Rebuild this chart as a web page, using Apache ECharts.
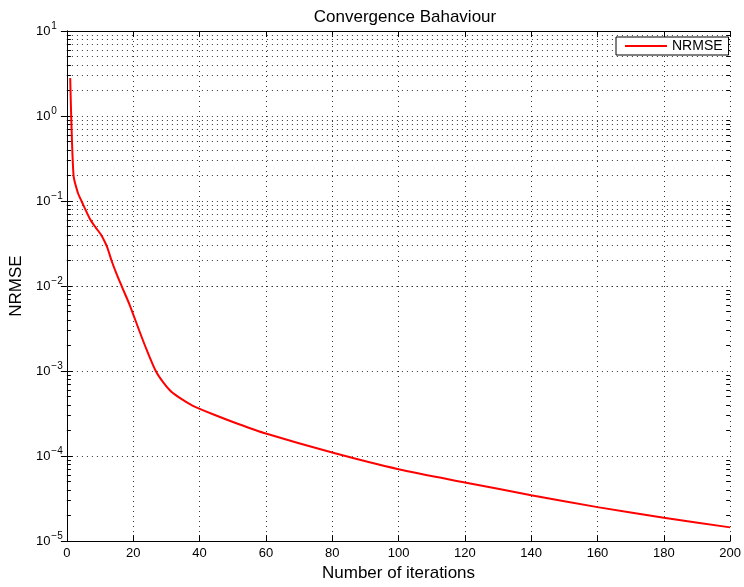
<!DOCTYPE html>
<html>
<head>
<meta charset="utf-8">
<script src="https://cdn.jsdelivr.net/npm/echarts@6/dist/echarts.min.js"></script>
<style>html,body{margin:0;padding:0;background:#fff}#c{width:744px;height:587px}</style>
</head>
<body>
<div id="c"></div>
<script>
// ---- data ----
const titleText = 'Convergence Bahaviour';
const xName = 'Number of iterations';
const yName = 'NRMSE';
const seriesName = 'NRMSE';
const iterations = [1, 2, 3.3, 4.4, 7, 8.7, 10.2, 11.3, 12.2, 13.5, 15, 16.7, 19, 22, 24, 26.8, 29, 31.5, 34.5, 38, 45, 51.5, 60, 80, 100, 120, 140, 160, 180, 200];
const nrmse = [2.8, 0.2, 0.125, 0.1, 0.061, 0.0487, 0.0406, 0.0339, 0.0283, 0.0197, 0.0138, 0.0096, 0.0059, 0.00286, 0.0018, 0.0010, 0.00074, 0.00057, 0.00047, 0.00039, 0.00030, 0.00024, 0.000184, 0.00011, 7.0e-5, 4.9e-5, 3.47e-5, 2.51e-5, 1.88e-5, 1.45e-5];
const xTicks = [0, 20, 40, 60, 80, 100, 120, 140, 160, 180, 200];
const yExponents = [1, 0, -1, -2, -3, -4, -5];
const minorMultipliers = [2, 3, 4, 5, 6, 7, 8, 9];

const FONT = "'Liberation Sans', Arial, Helvetica, sans-serif";
const points = iterations.map((x, i) => [x, nrmse[i]]);

const yMin = Math.pow(10, Math.min(...yExponents));
const yMax = Math.pow(10, Math.max(...yExponents));
const xMin = xTicks[0], xMax = xTicks[xTicks.length - 1];

// minor (2..9 x decade) positions for grid and ticks
const minorVals = [];
for (let e = Math.min(...yExponents); e < Math.max(...yExponents); e++) {
  minorMultipliers.forEach(m => minorVals.push(m * Math.pow(10, e)));
}
const gridStyle = { color: '#333', width: 1, type: [1, 4] };
const markData = [];
minorVals.forEach(v => {
  markData.push({ yAxis: v, lineStyle: gridStyle });
  markData.push([{ coord: [xMin, v], lineStyle: { color: '#000', width: 1, type: 'solid' } }, { coord: [xMin + 1.2, v] }]);
  markData.push([{ coord: [xMax - 1.2, v], lineStyle: { color: '#000', width: 1, type: 'solid' } }, { coord: [xMax, v] }]);
});

function supLabel(v) {
  const e = Math.round(Math.log10(v));
  const s = e < 0 ? '\u2212' + (-e) : String(e);
  return '{b|10}{s|' + s + '}';
}

const chart = echarts.init(document.getElementById('c'), null, { renderer: 'canvas' });
chart.setOption({
  animation: false,
  backgroundColor: '#fff',
  textStyle: { fontFamily: FONT },
  title: {
    text: titleText,
    left: 400, top: 4, textAlign: 'center',
    textStyle: { fontFamily: FONT, fontSize: 17, fontWeight: 'normal', color: '#000' }
  },
  legend: {
    data: [{ name: seriesName, icon: 'rect' }],
    left: 616, top: 37,
    backgroundColor: '#fff',
    borderColor: '#000', borderWidth: 1, borderRadius: 0,
    padding: [2, 6, 2, 9],
    itemWidth: 42, itemHeight: 2, itemGap: 5,
    itemStyle: { color: '#ff0000', borderWidth: 0 },
    textStyle: { fontFamily: FONT, fontSize: 14, color: '#000', lineHeight: 14 }
  },
  grid: { left: 66.7, top: 31, right: 10, bottom: 44.3, containLabel: false },
  xAxis: [{
    type: 'value', min: xMin, max: xMax, interval: 20, position: 'bottom',
    name: xName, nameLocation: 'middle', nameGap: 22,
    nameTextStyle: { fontFamily: FONT, fontSize: 17, color: '#000' },
    axisLine: { show: true, lineStyle: { color: '#000', width: 1 } },
    axisTick: { show: true, inside: true, length: 6, lineStyle: { color: '#000' } },
    axisLabel: { fontFamily: FONT, fontSize: 13, color: '#000', margin: 6 },
    splitLine: { show: true, lineStyle: gridStyle }
  }, {
    type: 'value', min: xMin, max: xMax, interval: 20, position: 'top',
    axisLine: { show: true, lineStyle: { color: '#000', width: 1 } },
    axisTick: { show: true, inside: true, length: 6, lineStyle: { color: '#000' } },
    axisLabel: { show: false }, splitLine: { show: false }
  }],
  yAxis: [{
    type: 'log', logBase: 10, min: yMin, max: yMax, position: 'left',
    name: yName, nameLocation: 'middle', nameGap: 38, nameRotate: 90,
    nameTextStyle: { fontFamily: FONT, fontSize: 17, color: '#000' },
    axisLine: { show: true, lineStyle: { color: '#000', width: 1 } },
    axisTick: { show: true, inside: true, length: 6, lineStyle: { color: '#000' } },
    axisLabel: {
      align: 'left', margin: 31, color: '#000',
      formatter: supLabel,
      rich: {
        b: { fontFamily: FONT, fontSize: 13, lineHeight: 13, padding: [4, 0, 3, 0], color: '#000' },
        s: { fontFamily: FONT, fontSize: 10, lineHeight: 10, padding: [0, 0, 10, 1], color: '#000' }
      }
    },
    splitLine: { show: true, lineStyle: gridStyle },
    minorTick: { show: false }, minorSplitLine: { show: false }
  }, {
    type: 'log', logBase: 10, min: yMin, max: yMax, position: 'right',
    axisLine: { show: true, lineStyle: { color: '#000', width: 1 } },
    axisTick: { show: true, inside: true, length: 6, lineStyle: { color: '#000' } },
    axisLabel: { show: false }, splitLine: { show: false }
  }],
  series: [{
    name: seriesName,
    type: 'line',
    xAxisIndex: 0, yAxisIndex: 0,
    data: points,
    symbol: 'none',
    smooth: 0.25,
    lineStyle: { color: '#ff0000', width: 2 },
    itemStyle: { color: '#ff0000' },
    z: 5,
    markLine: {
      silent: true, symbol: 'none', label: { show: false },
      animation: false,
      z: 1,
      data: markData
    }
  }]
});
</script>
</body>
</html>
